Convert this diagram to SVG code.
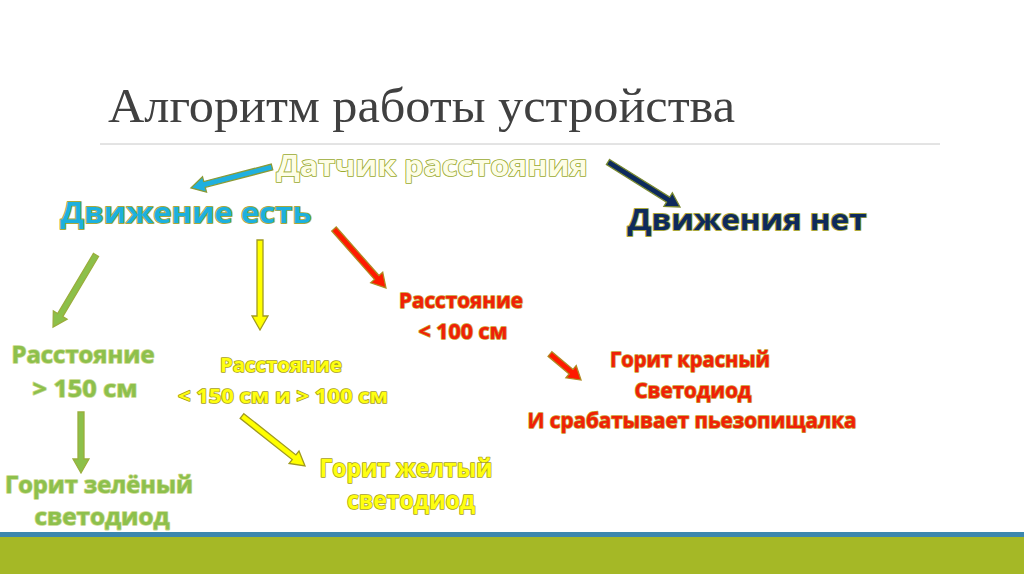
<svg xmlns="http://www.w3.org/2000/svg" width="1024" height="574" viewBox="0 0 1024 574">
<style>
.t{font-family:"Open Sans","Liberation Sans",sans-serif;font-weight:bold;text-anchor:middle;paint-order:stroke;stroke-linejoin:round}
.title{font-family:"Liberation Serif","Times New Roman",serif;font-size:48px;fill:#404040}
.sensor{fill:#fdfde6;stroke:#9aaa2e;stroke-width:1.6;font-size:28px}
.cyan{fill:#1db0de;stroke:#a9a83a;stroke-width:1.8;font-size:28px}
.navy{fill:#0d2a5c;stroke:#aaa83c;stroke-width:1.8;font-size:29px}
.red{fill:#f02008;stroke:#c89a2c;stroke-width:1.6;font-size:21px}
.green{fill:#8dc04c;stroke:#c8d88a;stroke-width:1.6;font-size:24px}
.yellow{fill:#ffff10;stroke:#a8a020;stroke-width:1.6}
.arr{stroke-width:1.3;stroke-linejoin:miter}
.a-blue{fill:#1fb0e0;stroke:#8a9a36}
.a-navy{fill:#0d2a5c;stroke:#7a8a30}
.a-red{fill:#ff1a00;stroke:#b08a22}
.a-green{fill:#8cc04a;stroke:#9aae3c}
.a-yellow{fill:#ffff00;stroke:#a09a20}
</style>
<rect width="1024" height="574" fill="#ffffff"/>
<g id="background">
<line x1="100" y1="144" x2="940" y2="144" stroke="#c8c8c8" stroke-width="1"/>
<rect x="0" y="532" width="1024" height="5" fill="#3c87ae"/>
<rect x="0" y="537" width="1024" height="37" fill="#a5b826"/>
</g>
<g id="title"><text class="title" x="108" y="122" textLength="627" lengthAdjust="spacingAndGlyphs">Алгоритм работы устройства</text></g>
<g id="connectors">
<path class="arr a-blue" transform="translate(272,167) rotate(165.5)" d="M0,-3 H69.7 V-8 L83.7,0 L69.7,8 V3 H0 Z"/>
<path class="arr a-navy" transform="translate(608,162) rotate(32)" d="M0,-3 H70.9 V-8 L84.9,0 L70.9,8 V3 H0 Z"/>
<path class="arr a-red" transform="translate(334,229) rotate(48.6)" d="M0,-3 H64.6 V-8 L78.6,0 L64.6,8 V3 H0 Z"/>
<path class="arr a-green" transform="translate(96,255) rotate(120.8)" d="M0,-3 H69.9 V-8 L83.9,0 L69.9,8 V3 H0 Z"/>
<path class="arr a-yellow" transform="translate(260,240) rotate(90)" d="M0,-3 H76 V-8 L90,0 L76,8 V3 H0 Z"/>
<path class="arr a-red" transform="translate(550,354) rotate(40)" d="M0,-3 H27.5 V-8 L40.5,0 L27.5,8 V3 H0 Z"/>
<path class="arr a-green" transform="translate(81,412) rotate(90)" d="M0,-3 H47 V-8 L61,0 L47,8 V3 H0 Z"/>
<path class="arr a-yellow" transform="translate(242,416) rotate(38.4)" d="M0,-3 H66.4 V-8 L80.4,0 L66.4,8 V3 H0 Z"/>
</g>
<g id="sensor"><text class="t sensor" x="432" y="176" textLength="311" lengthAdjust="spacingAndGlyphs">Датчик расстояния</text></g>
<g id="motion-yes"><text class="t cyan" x="186" y="223" textLength="251" lengthAdjust="spacingAndGlyphs">Движение есть</text></g>
<g id="motion-no"><text class="t navy" x="747" y="230" textLength="239" lengthAdjust="spacingAndGlyphs">Движения нет</text></g>
<g id="dist-less-100">
<text class="t red" x="461" y="308" textLength="124" lengthAdjust="spacingAndGlyphs">Расстояние</text>
<text class="t red" x="463" y="339" textLength="89" lengthAdjust="spacingAndGlyphs">&lt; 100 см</text>
</g>
<g id="red-led">
<text class="t red" x="690" y="367" textLength="160" lengthAdjust="spacingAndGlyphs">Горит красный</text>
<text class="t red" x="693" y="398" textLength="117" lengthAdjust="spacingAndGlyphs">Светодиод</text>
<text class="t red" x="692" y="428" textLength="329" lengthAdjust="spacingAndGlyphs">И срабатывает пьезопищалка</text>
</g>
<g id="dist-more-150">
<text class="t green" x="83" y="363" textLength="143" lengthAdjust="spacingAndGlyphs">Расстояние</text>
<text class="t green" x="85" y="397" textLength="105" lengthAdjust="spacingAndGlyphs">&gt; 150 см</text>
</g>
<g id="green-led">
<text class="t green" x="99" y="493" textLength="188" lengthAdjust="spacingAndGlyphs">Горит зелёный</text>
<text class="t green" x="102" y="525" textLength="135" lengthAdjust="spacingAndGlyphs">светодиод</text>
</g>
<g id="dist-between">
<text class="t yellow" x="281" y="372" font-size="20" textLength="122" lengthAdjust="spacingAndGlyphs">Расстояние</text>
<text class="t yellow" x="283" y="403" font-size="20" textLength="210" lengthAdjust="spacingAndGlyphs">&lt; 150 см и &gt; 100 см</text>
</g>
<g id="yellow-led">
<text class="t yellow" x="406" y="477" font-size="25" textLength="173" lengthAdjust="spacingAndGlyphs">Горит желтый</text>
<text class="t yellow" x="411" y="509" font-size="25" textLength="128" lengthAdjust="spacingAndGlyphs">светодиод</text>
</g>
</svg>
